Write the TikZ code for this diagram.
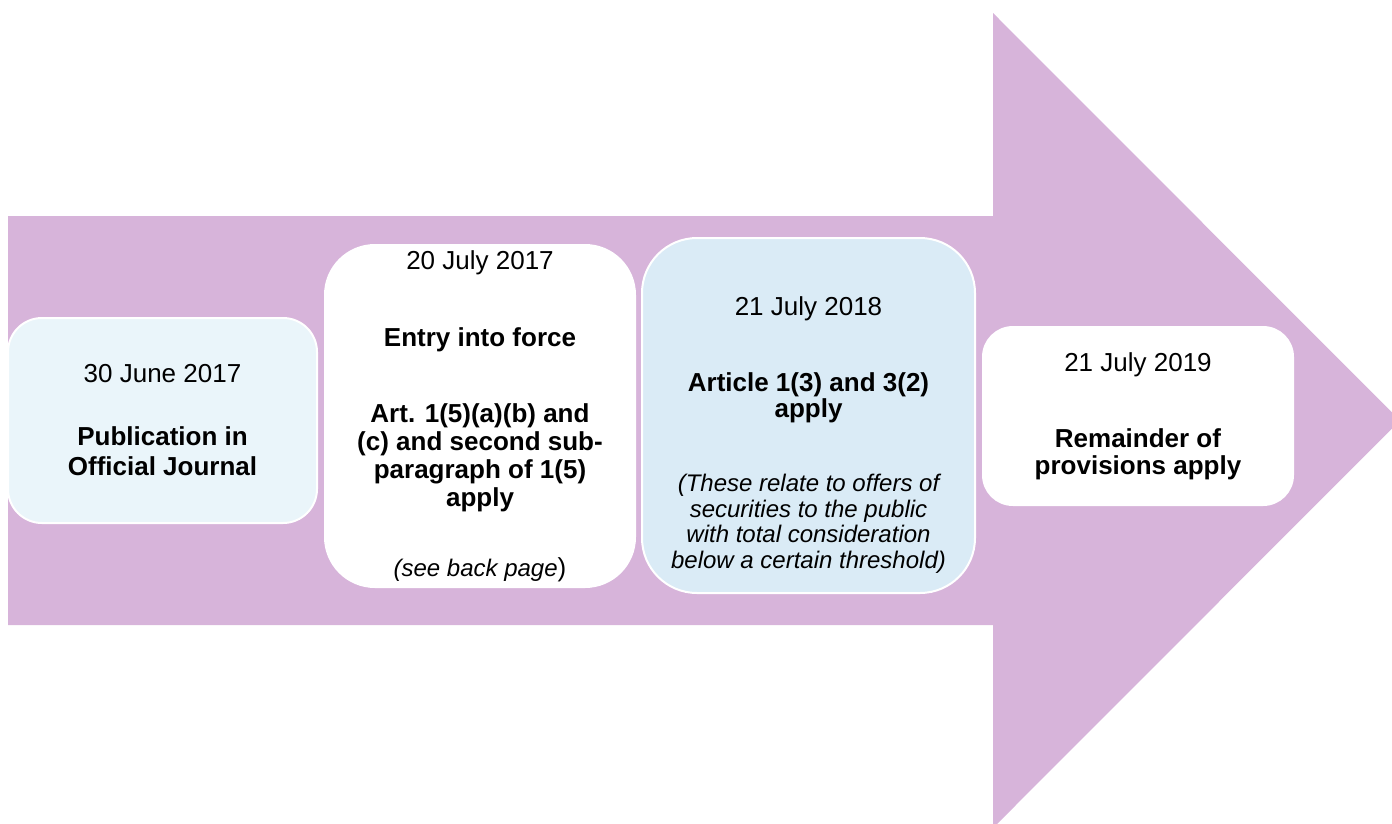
\documentclass[tikz,border=0pt]{standalone}
\usepackage{fontspec}
\setmainfont{Liberation Sans}
\definecolor{arrowpurple}{RGB}{215,180,218}
\definecolor{paleblue}{RGB}{234,245,250}
\definecolor{skyblue}{RGB}{218,235,246}
\newcommand{\noteit}[1]{{\itshape\fontsize{24}{25}\selectfont #1}}

\begin{document}
\begin{tikzpicture}[x=1pt, y=-1pt,
  stage/.style = {shape=rectangle, draw=white, line width=2pt,
    align=center, inner sep=0pt}]
  \clip (0,0) rectangle (1392,823);
  \fill[arrowpurple] (8,216) -- (993,216) -- (993,13) -- (1400,420.5)
    -- (993,828) -- (993,625) -- (8,625) -- cycle;
  \node[stage, fill=paleblue, rounded corners=34, minimum width=309,
    minimum height=205, font=\fontsize{26}{30}\selectfont]
    (published) at (162.5,420.5)
    {30 June 2017\\[33pt]
     \textbf{Publication in}\\ \textbf{Official Journal}};
  \node[stage, fill=white, rounded corners=50, minimum width=310,
    minimum height=342, font=\fontsize{26}{28}\selectfont]
    (inforce) at (480,416)
    {20 July 2017\\[49pt]
     \textbf{Entry into force}\\[48pt]
     \textbf{Art. 1(5)(a)(b) and}\\ \textbf{(c) and second sub-}\\
     \textbf{paragraph of 1(5)}\\ \textbf{apply}\\[42pt]
     \noteit{(see back page})};
  \node[stage, fill=skyblue, rounded corners=55, minimum width=333,
    minimum height=355, font=\fontsize{26}{25.5}\selectfont]
    (threshold) at (808.5,415.5)
    {\rule{0pt}{58pt}21 July 2018\\[50.5pt]
     \textbf{Article 1(3) and 3(2)}\\ \textbf{apply}\\[49pt]
     \noteit{(These relate to offers of}\\
     \noteit{securities to the public}\\
     \noteit{with total consideration}\\
     \noteit{below a certain threshold)}};
  \node[stage, fill=white, rounded corners=30, minimum width=310,
    minimum height=178, font=\fontsize{26}{27}\selectfont]
    (remainder) at (1138,416)
    {21 July 2019\\[49pt]
     \textbf{Remainder of}\\ \textbf{provisions apply}};
\end{tikzpicture}
\end{document}
